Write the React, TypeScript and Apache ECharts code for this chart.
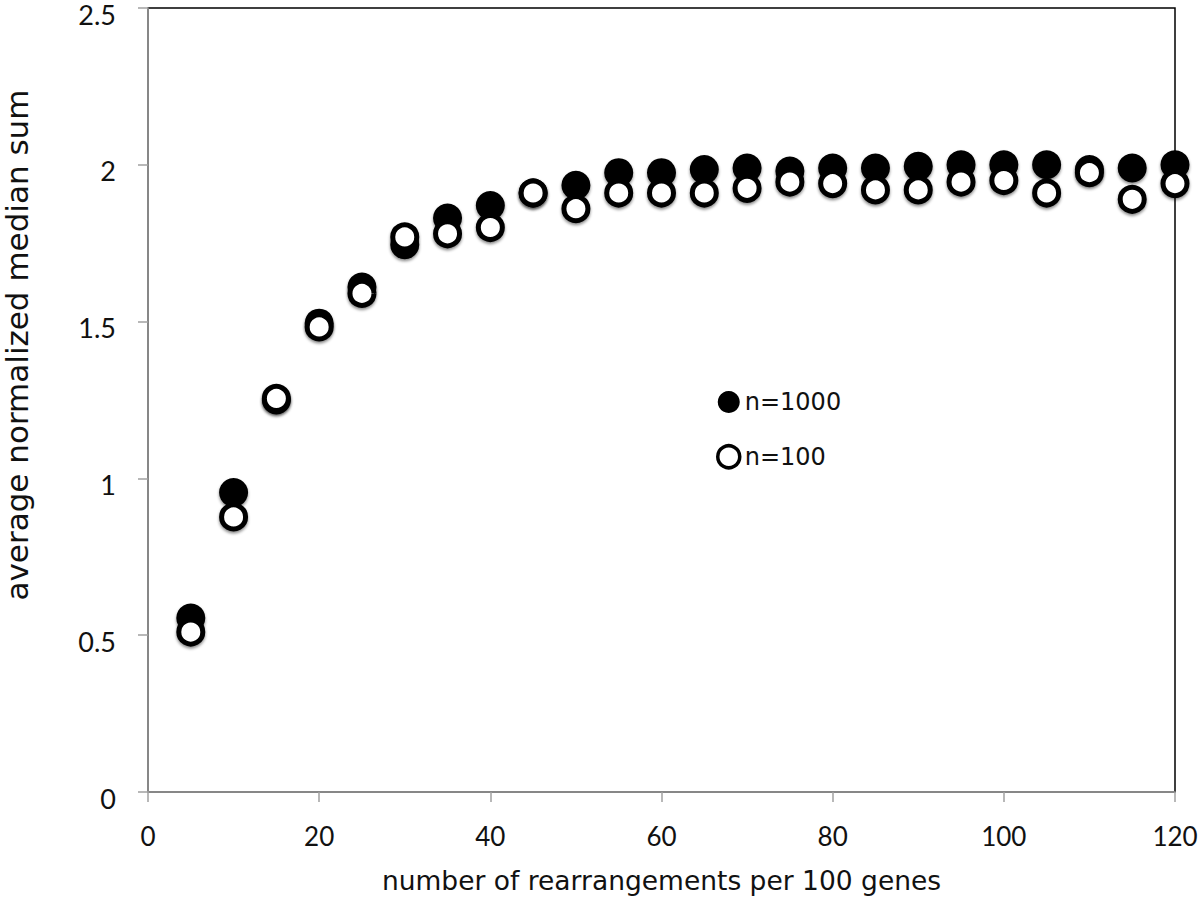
import React, { useEffect, useRef } from "react";
import * as echarts from "echarts";

const xValues = [5, 10, 15, 20, 25, 30, 35, 40, 45, 50, 55, 60, 65, 70, 75, 80, 85, 90, 95, 100, 105, 110, 115, 120];
const n1000 = [0.555, 0.955, 1.25, 1.495, 1.61, 1.745, 1.83, 1.87, 1.91, 1.935, 1.975, 1.975, 1.985, 1.99, 1.98, 1.99, 1.99, 1.995, 2.0, 2.0, 2.0, 1.985, 1.99, 2.0];
const n100 = [0.51, 0.877, 1.255, 1.483, 1.59, 1.77, 1.78, 1.80, 1.91, 1.86, 1.91, 1.91, 1.91, 1.925, 1.945, 1.94, 1.92, 1.92, 1.945, 1.95, 1.91, 1.975, 1.89, 1.94];
const seriesNames = ["n=1000", "n=100"];
const xTitle = "number of rearrangements per 100 genes";
const yTitle = "average normalized median sum";

const FONT = "Lato, 'Open Sans', sans-serif";
const TFONT = "'DejaVu Sans', sans-serif";

export default function App() {
  const ref = useRef<HTMLDivElement>(null);
  useEffect(() => {
    if (!ref.current) return;
    const chart = echarts.init(ref.current, undefined, { renderer: "svg" });
    const shadow = { shadowColor: "rgba(0,0,0,0.45)", shadowBlur: 3, shadowOffsetY: 2 };
    chart.setOption({
      animation: false,
      backgroundColor: "#ffffff",
      textStyle: { fontFamily: FONT },
      grid: {
        left: 148,
        right: 25,
        top: 8,
        bottom: 105,
        outerBoundsMode: "none",
        containLabel: false,
        show: true,
        borderColor: "#000000",
        borderWidth: 1.5,
        backgroundColor: "transparent",
      },
      legend: {
        orient: "vertical",
        left: 711,
        top: 385,
        itemGap: 30,
        itemWidth: 22,
        itemHeight: 22,
        icon: "circle",
        textStyle: { fontFamily: TFONT, fontSize: 24, color: "#111" },
        data: [
          { name: seriesNames[0], itemStyle: { color: "#000", borderWidth: 0, opacity: 1 } },
          { name: seriesNames[1], itemStyle: { color: "#fff", borderColor: "#000", borderWidth: 3.5, opacity: 1 } },
        ],
      },
      xAxis: {
        type: "value",
        min: 0,
        max: 120,
        interval: 20,
        name: xTitle,
        nameLocation: "middle",
        nameGap: 75,
        nameTextStyle: { fontFamily: TFONT, fontSize: 26.5, color: "#111" },
        axisLine: { show: true, lineStyle: { color: "#a0a0a0", width: 1.5 } },
        axisTick: { show: true, inside: false, length: 10, lineStyle: { color: "#a0a0a0", width: 1.5 } },
        axisLabel: { fontFamily: FONT, fontSize: 26, color: "#111", margin: 31 },
        splitLine: { show: false },
      },
      yAxis: {
        type: "value",
        min: 0,
        max: 2.5,
        interval: 0.5,
        name: yTitle,
        nameLocation: "middle",
        nameGap: 116,
        nameRotate: 90,
        nameTextStyle: { fontFamily: TFONT, fontSize: 31, color: "#111", padding: [0, 0, 0, 110] },
        axisLine: { show: true, lineStyle: { color: "#a0a0a0", width: 1.5 } },
        axisTick: { show: true, inside: false, length: 10, lineStyle: { color: "#a0a0a0", width: 1.5 } },
        axisLabel: {
          fontFamily: FONT,
          fontSize: 27,
          color: "#111",
          margin: 32,
          formatter: "{a|{value}}",
          rich: { a: { fontFamily: FONT, fontSize: 27, color: "#111", padding: [12, 0, 0, 0] } },
        },
        splitLine: { show: false },
      },
      series: [
        {
          name: seriesNames[0],
          type: "scatter",
          symbol: "circle",
          symbolSize: 29,
          data: xValues.map((x, i) => [x, n1000[i]]),
          itemStyle: { color: "#000000", opacity: 1, ...shadow },
          z: 2,
        },
        {
          name: seriesNames[1],
          type: "scatter",
          symbol: "circle",
          symbolSize: 24,
          data: xValues.map((x, i) => [x, n100[i]]),
          itemStyle: { color: "#ffffff", borderColor: "#000000", borderWidth: 5, opacity: 1, ...shadow },
          z: 3,
        },
      ],
    });
    return () => chart.dispose();
  }, []);
  return <div ref={ref} style={{ width: 1200, height: 897, position: "absolute", left: 0, top: 0 }} />;
}
